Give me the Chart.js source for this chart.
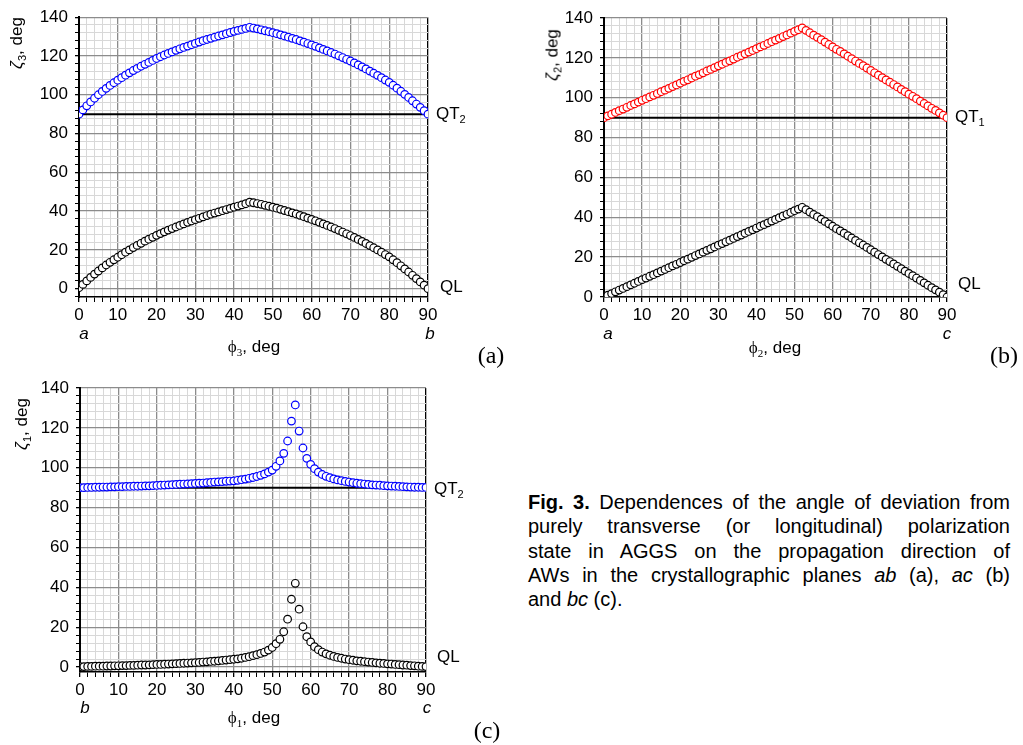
<!DOCTYPE html>
<html>
<head>
<meta charset="utf-8">
<script src="https://cdn.jsdelivr.net/npm/chart.js@4.4.0/dist/chart.umd.min.js"></script>
<style>
body { margin: 0; background: #fff; }
#page { position: relative; width: 1023px; height: 745px; overflow: hidden; font-family: Arial, "Liberation Sans", sans-serif; color: #000; }
canvas { position: absolute; }
.t { position: absolute; font-size: 17px; white-space: nowrap; line-height: 1; }
.c { transform: translate(-50%, -50%); }
.v { transform: translate(-50%, -50%) rotate(-90deg); }
.m { transform: translateY(-50%); }
.t sub { font-size: 11px; vertical-align: -4px; line-height: 0; }
.it { font-style: italic; }
.ser { font-family: "Liberation Serif", "Times New Roman", serif; }
.pan { font-family: "Liberation Serif", "Times New Roman", serif; font-size: 24px; }
#cap { position: absolute; left: 528px; top: 490px; width: 482px; font-size: 20px; line-height: 24.3px; }
#cap div { text-align: justify; text-align-last: justify; }
#cap div.last { text-align: left; text-align-last: left; }
</style>
</head>
<body>
<div id="page">
  <canvas id="chartA" width="450" height="340" style="left:0;top:0"></canvas>
  <canvas id="chartB" width="450" height="340" style="left:520px;top:0"></canvas>
  <canvas id="chartC" width="450" height="340" style="left:0;top:370px"></canvas>

  <!-- panel (a) -->
  <div class="t v" style="left:16px;top:43px"><span class="it">ζ</span><sub>3</sub>, deg</div>
  <div class="t c" style="left:254px;top:346px"><span class="ser">ϕ</span><sub class="ser">3</sub>, deg</div>
  <div class="t c it" style="left:84px;top:333px">a</div>
  <div class="t c it" style="left:430px;top:333px">b</div>
  <div class="t m" style="left:436px;top:113px">QT<sub>2</sub></div>
  <div class="t m" style="left:440px;top:286px">QL</div>
  <div class="t c pan" style="left:491px;top:355px">(a)</div>

  <!-- panel (b) -->
  <div class="t v" style="left:552px;top:55px"><span class="it">ζ</span><sub>2</sub>, deg</div>
  <div class="t c" style="left:775px;top:347px"><span class="ser">ϕ</span><sub class="ser">2</sub>, deg</div>
  <div class="t c it" style="left:608px;top:333px">a</div>
  <div class="t c it" style="left:947px;top:333px">c</div>
  <div class="t m" style="left:955px;top:116px">QT<sub>1</sub></div>
  <div class="t m" style="left:958px;top:283px">QL</div>
  <div class="t c pan" style="left:1004px;top:355px">(b)</div>

  <!-- panel (c) -->
  <div class="t v" style="left:21px;top:424px"><span class="it">ζ</span><sub>1</sub>, deg</div>
  <div class="t c" style="left:254px;top:717px"><span class="ser">ϕ</span><sub class="ser">1</sub>, deg</div>
  <div class="t c it" style="left:85px;top:707px">b</div>
  <div class="t c it" style="left:427px;top:707px">c</div>
  <div class="t m" style="left:434px;top:488px">QT<sub>2</sub></div>
  <div class="t m" style="left:437px;top:656px">QL</div>
  <div class="t c pan" style="left:487px;top:730px">(c)</div>

  <div id="cap">
    <div><b>Fig. 3.</b> Dependences of the angle of deviation from</div>
    <div>purely transverse (or longitudinal) polarization</div>
    <div>state in AGGS on the propagation direction of</div>
    <div>AWs in the crystallographic planes <i>ab</i> (a), <i>ac</i> (b)</div>
    <div class="last">and <i>bc</i> (c).</div>
  </div>
</div>

<script>
// --- DATA ---
const phiDeg = [0,1,2,3,4,5,6,7,8,9,10,11,12,13,14,15,16,17,18,19,20,21,22,23,24,25,26,27,28,29,30,31,32,33,34,35,36,37,38,39,40,41,42,43,44,45,46,47,48,49,50,51,52,53,54,55,56,57,58,59,60,61,62,63,64,65,66,67,68,69,70,71,72,73,74,75,76,77,78,79,80,81,82,83,84,85,86,87,88,89,90];
const xTickLabels = [0, 10, 20, 30, 40, 50, 60, 70, 80, 90];
const yTickLabels = [0, 20, 40, 60, 80, 100, 120, 140];
const refLevel = [90, 90];

// (a) plane ab
const zeta3QT2 = [90.0,92.2,94.3,96.3,98.2,100.0,101.7,103.3,104.8,106.2,
  107.5,108.8,110.1,111.3,112.5,113.6,114.7,115.7,116.7,117.7,
  118.7,119.6,120.5,121.3,122.1,122.9,123.7,124.4,125.1,125.8,
  126.5,127.2,127.9,128.5,129.1,129.7,130.3,130.9,131.5,132.1,
  132.7,133.2,133.7,134.2,134.8,134.4,134.0,133.5,133.0,132.5,
  132.0,131.5,130.9,130.3,129.7,129.1,128.5,127.8,127.1,126.4,
  125.7,125.0,124.2,123.4,122.6,121.8,121.0,120.1,119.2,118.3,
  117.4,116.4,115.4,114.4,113.3,112.2,111.1,110.0,108.8,107.6,
  106.4,104.9,103.4,101.8,100.2,98.6,96.9,95.2,93.5,91.8,
  90.0];
const zeta3QL = [0.5,2.2,4.0,5.8,7.5,9.1,10.7,12.2,13.6,14.9,
  16.2,17.5,18.8,20.0,21.2,22.3,23.4,24.5,25.5,26.5,
  27.5,28.4,29.3,30.2,31.0,31.8,32.6,33.4,34.2,34.9,
  35.6,36.3,37.0,37.7,38.4,39.0,39.6,40.2,40.8,41.4,
  42.0,42.6,43.2,43.8,44.6,44.3,43.9,43.5,43.0,42.5,
  42.0,41.5,40.9,40.3,39.7,39.1,38.5,37.8,37.1,36.4,
  35.7,35.0,34.2,33.4,32.6,31.8,31.0,30.1,29.2,28.3,
  27.4,26.4,25.4,24.4,23.3,22.2,21.1,20.0,18.8,17.6,
  16.4,14.9,13.4,11.8,10.2,8.6,6.9,5.2,3.5,1.8,
  0.0];

// (b) plane ac
const zeta2QT1 = [90.0,90.9,91.7,92.6,93.5,94.3,95.2,96.1,96.9,97.8,
  98.7,99.5,100.4,101.2,102.1,103.0,103.8,104.7,105.6,106.4,
  107.3,108.2,109.0,109.9,110.8,111.6,112.5,113.4,114.2,115.1,
  116.0,116.8,117.7,118.5,119.4,120.3,121.1,122.0,122.9,123.7,
  124.6,125.5,126.3,127.2,128.1,128.9,129.8,130.7,131.5,132.4,
  133.3,134.1,135.0,133.8,132.6,131.4,130.3,129.1,127.9,126.7,
  125.5,124.3,123.2,122.0,120.8,119.6,118.4,117.2,116.1,114.9,
  113.7,112.5,111.3,110.1,108.9,107.8,106.6,105.4,104.2,103.0,
  101.8,100.7,99.5,98.3,97.1,95.9,94.7,93.6,92.4,91.2,
  90.0];
const zeta2QL = [0.0,0.9,1.7,2.6,3.5,4.3,5.2,6.1,6.9,7.8,
  8.7,9.5,10.4,11.2,12.1,13.0,13.8,14.7,15.6,16.4,
  17.3,18.2,19.0,19.9,20.8,21.6,22.5,23.4,24.2,25.1,
  26.0,26.8,27.7,28.5,29.4,30.3,31.1,32.0,32.9,33.7,
  34.6,35.5,36.3,37.2,38.1,38.9,39.8,40.7,41.5,42.4,
  43.3,44.1,45.0,43.8,42.6,41.4,40.3,39.1,37.9,36.7,
  35.5,34.3,33.2,32.0,30.8,29.6,28.4,27.2,26.1,24.9,
  23.7,22.5,21.3,20.1,18.9,17.8,16.6,15.4,14.2,13.0,
  11.8,10.7,9.5,8.3,7.1,5.9,4.7,3.6,2.4,1.2,
  0.0];

// (c) plane bc
const zeta1QT2 = [90.0,90.0,90.1,90.1,90.2,90.2,90.3,90.3,90.4,90.4,
  90.5,90.5,90.6,90.6,90.7,90.7,90.8,90.9,90.9,91.0,
  91.1,91.2,91.3,91.4,91.5,91.6,91.7,91.8,91.9,92.0,
  92.1,92.2,92.3,92.5,92.6,92.8,92.9,93.0,93.2,93.3,
  93.4,93.7,94.0,94.3,94.7,95.1,95.6,96.2,96.9,97.8,
  98.8,100.7,103.4,107.2,113.4,123.4,131.5,118.4,109.9,104.7,
  101.7,99.5,97.8,96.6,95.7,95.0,94.4,93.9,93.5,93.1,
  92.8,92.5,92.2,92.0,91.8,91.6,91.4,91.3,91.2,91.0,
  90.9,90.8,90.7,90.6,90.5,90.4,90.3,90.2,90.2,90.1,
  90.1];
const zeta1QL = [0.2,0.2,0.3,0.3,0.4,0.4,0.4,0.5,0.5,0.6,
  0.6,0.7,0.7,0.8,0.8,0.9,1.0,1.0,1.1,1.2,
  1.3,1.3,1.4,1.5,1.6,1.7,1.8,1.9,2.0,2.1,
  2.2,2.3,2.5,2.6,2.8,2.9,3.1,3.3,3.5,3.7,
  3.9,4.1,4.4,4.8,5.2,5.7,6.2,6.8,7.5,8.5,
  9.8,11.7,13.9,17.7,24.0,34.0,42.0,29.0,20.2,15.2,
  12.6,10.2,8.7,7.5,6.6,5.9,5.3,4.8,4.4,4.0,
  3.7,3.4,3.1,2.9,2.7,2.5,2.3,2.1,1.9,1.8,
  1.6,1.5,1.3,1.2,1.0,0.9,0.7,0.6,0.4,0.3,
  0.2];

const FONT = 'Arial, "Liberation Sans", sans-serif';
const MAJOR = '#8c8c8c', MINOR = '#d8d8d8';

// --- HELPERS ---
function gridValues(min, max, step) {
    const out = [];
    for (let v = Math.ceil(min / step) * step; v <= max + 1e-9; v += step) out.push(Math.round(v * 10) / 10);
    return out;
}

function toPoints(values) {
    return values.map((v, i) => ({ x: phiDeg[i], y: v }));
}

function circles(values, color) {
    return {
        data: toPoints(values), showLine: false, order: 1,
        borderColor: color, pointBorderColor: color, pointBackgroundColor: '#fff',
        pointRadius: 3.8, pointBorderWidth: 1.2
    };
}

function makePanel(id, upper, upperColor, lower, yMin, pad) {
    const last = phiDeg.length - 1;
    return new Chart(document.getElementById(id), {
        type: 'scatter',
        data: {
            datasets: [
                circles(upper, upperColor),
                circles(lower, '#000'),
                { data: [{ x: phiDeg[0], y: refLevel[0] }, { x: phiDeg[last], y: refLevel[1] }],
                  showLine: true, borderColor: '#000', borderWidth: 2, pointRadius: 0, order: 2 }
            ]
        },
        options: {
            responsive: false, animation: false, events: [],
            layout: { padding: pad },
            plugins: { legend: { display: false }, tooltip: { enabled: false } },
            scales: {
                x: {
                    type: 'linear', min: 0, max: 90,
                    afterBuildTicks: s => { s.ticks = gridValues(0, 90, 2).map(v => ({ value: v })); },
                    afterFit: s => { s.height = 30; },
                    ticks: { autoSkip: false, maxRotation: 0, padding: 3, color: '#000',
                             font: { family: FONT, size: 17 },
                             callback: v => xTickLabels.includes(v) ? v : '' },
                    grid: {
                        color: c => !c.tick ? MAJOR : c.tick.value === 90 ? '#000' : (xTickLabels.includes(c.tick.value) ? MAJOR : MINOR),
                        lineWidth: c => c.tick && xTickLabels.includes(c.tick.value) ? 1.3 : 1,
                        tickColor: '#000', tickLength: 5
                    },
                    border: { color: '#000', width: 1.5 }
                },
                y: {
                    type: 'linear', min: yMin, max: 140,
                    afterBuildTicks: s => { s.ticks = gridValues(yMin, 140, 4).map(v => ({ value: v })); },
                    afterFit: s => { s.width = 50; },
                    ticks: { autoSkip: false, padding: 7, color: '#000',
                             font: { family: FONT, size: 17 },
                             callback: v => yTickLabels.includes(v) ? v : '' },
                    grid: {
                        color: c => c.tick && yTickLabels.includes(c.tick.value) ? MAJOR : MINOR,
                        lineWidth: c => c.tick && yTickLabels.includes(c.tick.value) ? 1.3 : 1,
                        tickColor: '#000', tickLength: 4
                    },
                    border: { color: '#000', width: 2 }
                }
            }
        }
    });
}

// --- CHARTS ---
makePanel('chartA', zeta3QT2, '#0000ff', zeta3QL, -4.3, { left: 29, right: 22, top: 16, bottom: 13 });
makePanel('chartB', zeta2QT1, '#ff0000', zeta2QL, 0, { left: 34, right: 23, top: 18, bottom: 13 });
makePanel('chartC', zeta1QT2, '#0000ff', zeta1QL, -2.5, { left: 30, right: 24, top: 18, bottom: 8 });
</script>
</body>
</html>
